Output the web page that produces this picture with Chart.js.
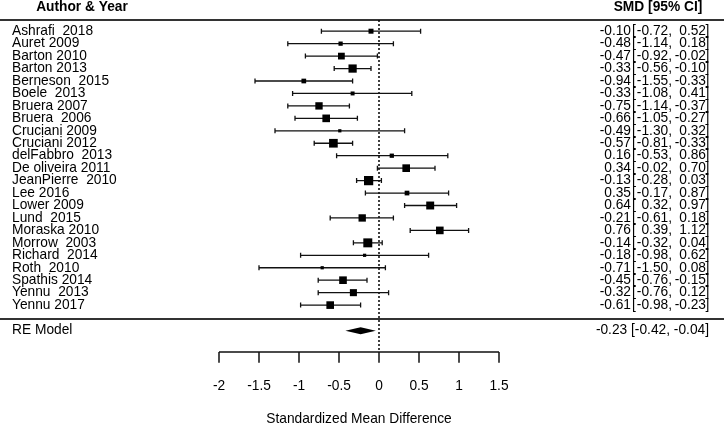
<!DOCTYPE html>
<html lang="en">
<head>
    <meta charset="UTF-8">
    <script src="https://cdn.jsdelivr.net/npm/chart.js"></script>
    <title>Forest plot</title>
    <style>
        body { margin: 0; background: #fff; }
        #wrap { width: 724px; height: 425px; position: relative; }
    </style>
</head>
<body>
    <div id="wrap"><canvas id="forestCanvas"></canvas></div>
<script>
    // study data
    const studies = ['Ashrafi  2018', 'Auret 2009', 'Barton 2010', 'Barton 2013', 'Berneson  2015',
        'Boele  2013', 'Bruera 2007', 'Bruera  2006', 'Cruciani 2009', 'Cruciani 2012',
        'delFabbro  2013', 'De oliveira 2011', 'JeanPierre  2010', 'Lee 2016', 'Lower 2009',
        'Lund  2015', 'Moraska 2010', 'Morrow  2003', 'Richard  2014', 'Roth  2010',
        'Spathis 2014', 'Yennu  2013', 'Yennu 2017'];
    const smd = [-0.10, -0.48, -0.47, -0.33, -0.94, -0.33, -0.75, -0.66, -0.49, -0.57, 0.16, 0.34,
        -0.13, 0.35, 0.64, -0.21, 0.76, -0.14, -0.18, -0.71, -0.45, -0.32, -0.61];
    const ciLow = [-0.72, -1.14, -0.92, -0.56, -1.55, -1.08, -1.14, -1.05, -1.30, -0.81, -0.53, -0.02,
        -0.28, -0.17, 0.32, -0.61, 0.39, -0.32, -0.98, -1.50, -0.76, -0.76, -0.98];
    const ciHigh = [0.52, 0.18, -0.02, -0.10, -0.33, 0.41, -0.37, -0.27, 0.32, -0.33, 0.86, 0.70,
        0.03, 0.87, 0.97, 0.18, 1.12, 0.04, 0.62, 0.08, -0.15, 0.12, -0.23];
    // relative weights (%), drive the square size
    const weights = [3.4, 2.9, 4.6, 5.6, 3.2, 2.7, 5.0, 5.2, 2.2, 5.9, 2.9, 5.2, 6.3, 3.2, 5.4,
        5.0, 5.2, 6.1, 2.2, 2.2, 5.2, 4.8, 5.2];
    const reModel = { label: 'RE Model', est: -0.23, low: -0.42, high: -0.04 };
    const xTicks = [-2, -1.5, -1, -0.5, 0, 0.5, 1, 1.5];
    const xTitle = 'Standardized Mean Difference';

    const FONT = '13.75px "Liberation Sans", Arial, sans-serif';
    const BOLD = 'bold 13.75px "Liberation Sans", Arial, sans-serif';

    function fmt(v) {
        return v.toFixed(2);
    }

    // row positions on the y scale
    const ROW_RE = 24.05, LINE_TOP = -0.9, LINE_MID = 23.1, HEAD = -1.95;
    const AXIS_Y = 25.77, TICK_END = 26.63, TICK_LAB = 28.55, TITLE_Y = 31.15;

    const forestPlugin = {
        id: 'forest',
        beforeDatasetsDraw(chart) {
            const ctx = chart.ctx;
            const xs = chart.scales.x, ys = chart.scales.y;
            const W = chart.width;
            ctx.save();

            // horizontal rules
            ctx.strokeStyle = '#333';
            ctx.lineWidth = 2;
            [LINE_TOP, LINE_MID].forEach(function (v) {
                const py = Math.round(ys.getPixelForValue(v));
                ctx.beginPath();
                ctx.moveTo(0, py);
                ctx.lineTo(W, py);
                ctx.stroke();
            });

            // null line
            ctx.strokeStyle = '#000';
            ctx.lineWidth = 1.5;
            ctx.setLineDash([2, 2]);
            const x0 = xs.getPixelForValue(0);
            ctx.beginPath();
            ctx.moveTo(x0, ys.getPixelForValue(LINE_TOP));
            ctx.lineTo(x0, ys.getPixelForValue(AXIS_Y));
            ctx.stroke();
            ctx.setLineDash([]);

            // confidence intervals
            ctx.strokeStyle = '#111';
            ctx.lineWidth = 1.3;
            for (let i = 0; i < studies.length; i++) {
                const py = ys.getPixelForValue(i);
                const a = xs.getPixelForValue(ciLow[i]);
                const b = xs.getPixelForValue(ciHigh[i]);
                ctx.beginPath();
                ctx.moveTo(a, py);
                ctx.lineTo(b, py);
                ctx.moveTo(a, py - 2.5);
                ctx.lineTo(a, py + 2.5);
                ctx.moveTo(b, py - 2.5);
                ctx.lineTo(b, py + 2.5);
                ctx.stroke();
            }

            // summary diamond
            const ry = ys.getPixelForValue(ROW_RE);
            ctx.fillStyle = '#000';
            ctx.beginPath();
            ctx.moveTo(xs.getPixelForValue(reModel.low), ry);
            ctx.lineTo(xs.getPixelForValue(reModel.est), ry - 3.5);
            ctx.lineTo(xs.getPixelForValue(reModel.high), ry);
            ctx.lineTo(xs.getPixelForValue(reModel.est), ry + 3.5);
            ctx.closePath();
            ctx.fill();

            // x axis
            const axY = ys.getPixelForValue(AXIS_Y);
            const tkY = ys.getPixelForValue(TICK_END);
            const first = xTicks[0], last = xTicks[xTicks.length - 1];
            ctx.strokeStyle = '#111';
            ctx.lineWidth = 1.5;
            ctx.beginPath();
            ctx.moveTo(xs.getPixelForValue(first), axY);
            ctx.lineTo(xs.getPixelForValue(last), axY);
            xTicks.forEach(function (t) {
                const px = xs.getPixelForValue(t);
                ctx.moveTo(px, axY);
                ctx.lineTo(px, tkY);
            });
            ctx.stroke();

            // text
            ctx.fillStyle = '#000';
            ctx.textBaseline = 'middle';
            ctx.font = FONT;
            ctx.textAlign = 'center';
            xTicks.forEach(function (t) {
                ctx.fillText(String(t), xs.getPixelForValue(t), ys.getPixelForValue(TICK_LAB));
            });
            // title sits in the middle of the axis span
            ctx.fillText(xTitle, xs.getPixelForValue((first + last) / 2), ys.getPixelForValue(TITLE_Y));

            for (let i = 0; i < studies.length; i++) {
                const py = ys.getPixelForValue(i);
                ctx.textAlign = 'left';
                ctx.fillText(studies[i], 12, py);
                ctx.textAlign = 'right';
                ctx.fillText(fmt(smd[i]), 631, py);
                ctx.fillText(fmt(ciLow[i]) + ',', 672, py);
                ctx.fillText(fmt(ciHigh[i]), 706, py);
                ctx.textAlign = 'left';
                ctx.fillText('[', 632, py);
                ctx.fillText(']', 705.5, py);
            }
            ctx.textAlign = 'left';
            ctx.fillText(reModel.label, 12, ry);
            ctx.textAlign = 'right';
            ctx.fillText(fmt(reModel.est) + ' [' + fmt(reModel.low) + ', ' + fmt(reModel.high) + ']', 709, ry);

            ctx.font = BOLD;
            ctx.textAlign = 'center';
            ctx.fillText('Author & Year', 82, ys.getPixelForValue(HEAD));
            ctx.fillText('SMD [95% CI]', 658, ys.getPixelForValue(HEAD));

            ctx.restore();
        }
    };

    const points = smd.map(function (v, i) { return { x: v, y: i }; });

    const config = {
        type: 'scatter',
        data: {
            datasets: [{
                data: points,
                pointStyle: 'rect',
                pointRadius: weights.map(function (w) { return (w * 1.47) / Math.SQRT2; }),
                backgroundColor: '#000',
                borderWidth: 0
            }]
        },
        options: {
            responsive: true,
            maintainAspectRatio: false,
            animation: false,
            layout: { padding: 0, autoPadding: false },
            plugins: {
                legend: { display: false },
                tooltip: { enabled: false }
            },
            scales: {
                x: { type: 'linear', min: -4.7375, max: 4.3125, display: false },
                y: { type: 'linear', min: -2.506, max: 31.63, reverse: true, display: false }
            }
        },
        plugins: [forestPlugin]
    };

    let myChart = new Chart(document.getElementById('forestCanvas'), config);
</script>
</body>
</html>
